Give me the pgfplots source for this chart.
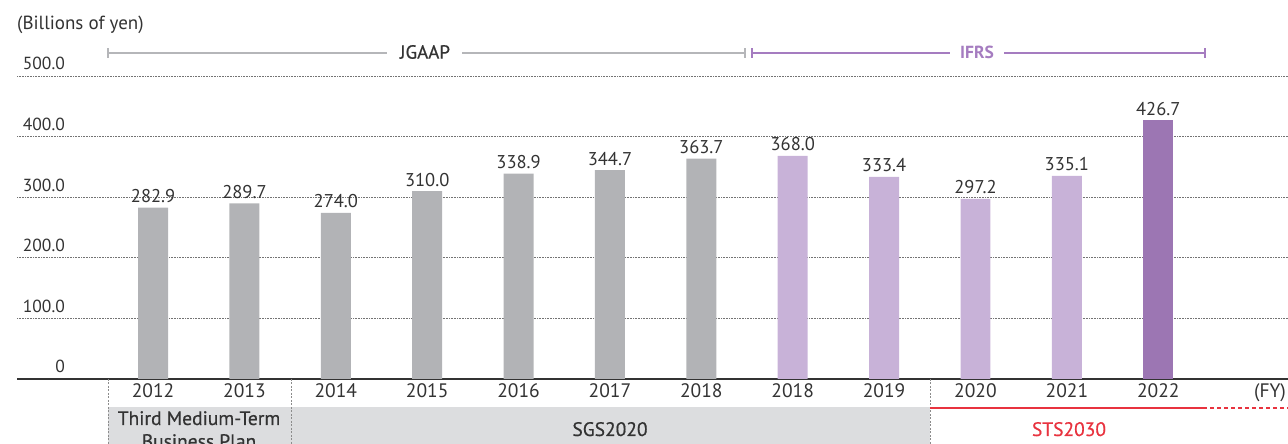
\documentclass[border=0pt]{standalone}
\usepackage{fontspec}
\setmainfont{PT Sans}
\newfontfamily\medfont[FakeBold=0.6]{PT Sans}
\usepackage{pgfplots}
\pgfplotsset{compat=1.18}
\definecolor{barGray}{HTML}{B2B3B6}
\definecolor{barLP}{HTML}{C8B2D8}
\definecolor{barDP}{HTML}{9C76B3}
\definecolor{txt}{HTML}{333333}
\definecolor{bandGray}{HTML}{DCDDDF}
\definecolor{lineGray}{HTML}{B5B6B9}
\definecolor{ifrs}{HTML}{A57CC0}
\definecolor{stsred}{HTML}{E8333F}
\newcommand\fsy{\fontsize{17.5bp}{20bp}\selectfont}
\newcommand\fsv{\fontsize{18.5bp}{21bp}\selectfont}
\newcommand\fsx{\fontsize{19.5bp}{22bp}\selectfont}
\newcommand\fsb{\fontsize{19.5bp}{22bp}\medfont}
\begin{document}
\begin{tikzpicture}[x=1bp,y=1bp]
\useasboundingbox (0,0) rectangle (1288,444);
\clip (0,0) rectangle (1288,444);
% bottom bands
\fill[bandGray] (108,-5) rectangle (930,37);
\begin{axis}[
  at={(17bp,65bp)}, anchor=south west, scale only axis,
  width=1271bp, height=303bp,
  xmin=-1.489, xmax=12.42, ymin=0, ymax=500,
  axis lines*=left,
  y axis line style={draw=none},
  x axis line style={draw=txt, line width=1.3bp},
  major tick length=0pt,
  xtick={0,...,11},
  xticklabels={2012,2013,2014,2015,2016,2017,2018,2018,2019,2020,2021,2022},
  ytick={0,100,200,300,400,500},
  yticklabels={0,100.0,200.0,300.0,400.0,500.0},
  ymajorgrids,
  grid style={black!55, line width=0.7bp, dash pattern=on 0.8bp off 0.8bp},
  xticklabel style={font=\fsx, text=txt, anchor=base, inner sep=0pt, yshift=-19bp},
  yticklabel style={font=\fsy, text=txt, anchor=base east, inner sep=0pt, xshift=48bp, yshift=6bp},
  clip=false,
  ybar, bar width=0.328,
  /pgf/number format/assume math mode=true,
  /pgf/number format/fixed,
  /pgf/number format/fixed zerofill,
  /pgf/number format/precision=1,
  nodes near coords,
  every node near coord/.append style={font=\fsv, text=txt, anchor=base, inner sep=0pt, yshift=5bp},
]
\addplot[fill=barGray, draw=none, bar shift=0pt] coordinates {
  (0,282.9) (1,289.7) (2,274.0) (3,310.0) (4,338.9) (5,344.7) (6,363.7)};
\addplot[fill=barLP, draw=none, bar shift=0pt] coordinates {
  (7,368.0) (8,333.4) (9,297.2) (10,335.1)};
\addplot[fill=barDP, draw=none, bar shift=0pt] coordinates {
  (11,426.7)};
\end{axis}
% dashed separators
\foreach \xx in {108,291,930} {
  \draw[black!45, line width=0.7bp, dash pattern=on 2bp off 1.5bp] (\xx,65) -- (\xx,0);
}
% red STS line
\draw[stsred, line width=1.3bp] (930,36) -- (1207,36);
\draw[stsred, line width=1.3bp, dash pattern=on 4bp off 3bp] (1210,36) -- (1288,36);
% bottom texts
\node[font=\fsb, text=txt, anchor=base, inner sep=0pt] at (199,19) {Third Medium-Term};
\node[font=\fsb, text=txt, anchor=base, inner sep=0pt] at (199,-4) {Business Plan};
\node[font=\fsb, text=txt, anchor=base, inner sep=0pt] at (610,8) {SGS2020};
\node[font=\fsb, text=stsred, anchor=base, inner sep=0pt] at (1069,8) {STS2030};
\node[font=\fsx, text=txt, anchor=base, inner sep=0pt] at (1270,46) {(FY)};
% top
\node[font=\fontsize{19bp}{22bp}\selectfont, text=txt, anchor=base west, inner sep=0pt] at (17,414) {(Billions of yen)};
\draw[lineGray, line width=1.3bp] (108,391) -- (387,391);
\draw[lineGray, line width=1.3bp] (462,391) -- (745,391);
\draw[lineGray, line width=1.3bp] (108,386) -- (108,396);
\draw[lineGray, line width=1.3bp] (745,386) -- (745,396);
\node[font=\fontsize{19bp}{22bp}\medfont, text=txt] at (425,392) {JGAAP};
\draw[ifrs, line width=1.3bp] (752,391) -- (950,391);
\draw[ifrs, line width=1.3bp] (1004,391) -- (1205,391);
\draw[ifrs, line width=1.3bp] (752,386) -- (752,396);
\draw[ifrs, line width=1.3bp] (1205,386) -- (1205,396);
\node[font=\fontsize{17.5bp}{20bp}\selectfont\bfseries, text=ifrs] at (977,392) {IFRS};
\end{tikzpicture}
\end{document}
